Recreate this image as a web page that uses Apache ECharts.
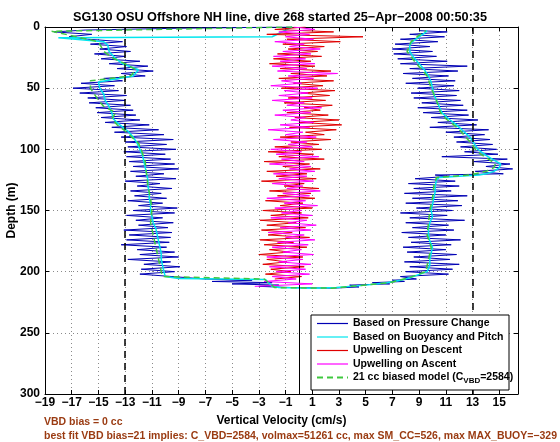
<!DOCTYPE html>
<html><head><meta charset="utf-8">
<script src="https://cdn.jsdelivr.net/npm/echarts@6/dist/echarts.min.js"></script>
<style>html,body{margin:0;padding:0;background:#fff}#c{width:560px;height:442px}</style>
</head><body><div id="c"></div>
<script>
// ---------- data (velocity in cm/s, depth in m) ----------
const pressureDepth = [0,1,2.5,4,6,8,
 10,12,14,16,18,20,22,24,26,28,30,32,34,36,38,40,42,44,46,48,50,52,54,56,58,60,62,64,66,68,
 70,72,74,76,78,80,82,84,86,88,90,92,94,96,98,100,102,104,106,108,110,112,114,116,118,120,122,124,126,128,
 130,132,134,136,138,140,142,144,146,148,150,152,154,156,158,160,162,164,166,168,170,172,174,176,178,180,
 182,184,186,188,190,192,194,196,198,200,202,204,
 206,207,208,209,210,211,212,213,
 213.5,212.5,211,210,209,208,207,206,
 204,202,200,198,196,194,192,190,188,186,184,182,180,178,176,174,172,170,168,166,164,162,160,158,156,154,
 152,150,148,146,144,142,140,138,136,134,132,130,128,126,124,122,121,120,118,116,114,112,110,108,106,104,
 102,100,98,96,94,92,90,88,86,84,82,80,78,76,74,72,70,68,66,64,62,60,58,56,54,52,50,48,46,44,42,40,38,36,
 34,32,30,28,26,24,22,20,18,16,14,12,10,8,6,4,3];
const pressureVel = [-0.5,-9,-16,-18.3,-15.5,-17.2,
 -15.8,-13.2,-15.6,-12.9,-14.9,-12.6,-15.3,-13.0,-14.8,-11.9,
 -14.2,-11.3,-13.6,-10.9,-13.3,-11.5,-14.6,-13.2,-16.3,-13.8,
 -16.9,-13.5,-16.4,-12.9,-15.8,-13.0,-15.7,-12.6,-15.2,-12.4,
 -15.1,-12.2,-14.8,-11.9,-14.5,-11.2,-14.0,-10.5,-13.8,-10.1,
 -13.3,-9.4,-13.0,-9.9,-12.8,-9.2,-13.1,-10.0,-12.9,-9.6,
 -12.7,-9.3,-12.4,-9.0,-12.6,-10.1,-12.2,-9.2,-13.0,-10.4,
 -12.1,-9.5,-12.6,-10.3,-12.3,-9.9,-12.8,-10.2,-12.0,-9.1,
 -12.4,-9.3,-12.9,-10.2,-12.2,-9.4,-12.0,-9.8,-13.1,-9.5,
 -12.7,-9.6,-12.9,-9.7,-13.3,-9.9,-12.1,-9.3,-11.9,-9.0,
 -12.8,-9.6,-11.6,-8.9,-11.8,-9.3,-11.9,-9.5,
 -7.0,-3.5,-6.5,-2.0,-5.0,-1.5,-3.0,-0.5,
 2.5,4.5,3.8,6.8,5.5,7.9,7.0,8.8,
 7.6,11.2,8.0,11.5,8.3,12.0,7.9,11.3,8.6,11.8,
 8.1,11.0,7.8,11.4,8.4,12.1,8.2,11.0,7.7,11.6,
 8.5,11.2,8.0,12.4,8.3,11.1,7.6,11.5,8.8,12.2,
 8.0,11.9,8.5,12.6,7.9,11.4,8.6,12.0,8.2,11.7,
 8.7,11.3,10.2,15.3,13.2,16.0,14.0,15.8,13.1,15.6,
 10.7,14.9,12.4,14.8,12.1,14.5,11.8,14.3,11.6,13.9,
 11.0,14.2,9.8,13.3,10.4,13.4,9.9,12.7,9.3,12.6,
 8.9,12.3,9.2,12.1,8.6,11.8,8.4,12.0,8.9,11.6,
 8.0,11.7,8.5,11.2,7.8,11.9,8.3,12.6,7.6,11.1,
 7.4,10.3,7.1,10.0,7.0,9.8,7.2,10.4,7.6,10.9,
 8.3,11.1,9.0];

const buoyDepth = [0,8,8.8,12,15,20,25,30,35,40,45,50,55,60,65,70,75,80,85,90,95,100,105,110,115,120,125,130,
 135,140,145,150,155,160,165,170,175,180,185,190,195,200,204,205.5,206.5,212,213,213.5,213,211,209,207,205,
 200,195,190,185,180,175,170,165,160,155,150,145,140,135,130,125,123,121,120,118,115,112,110,
 105,100,95,90,85,80,75,70,65,60,55,50,45,40,35,30,25,20,15,12,8,5,3];
const buoyVel = [-0.5,-2,-18.0,-14.6,-14.3,-14.2,-13.8,-13.2,-12.0,-12.4,-15.0,-14.9,-14.6,-14.5,-14.2,-14.0,
 -13.9,-13.4,-12.8,-12.4,-12.1,-11.9,-11.7,-11.6,-11.5,-11.4,-11.3,-11.3,-11.2,-11.2,-11.1,-11.1,-11.0,-10.9,
 -10.7,-10.6,-10.5,-10.4,-10.3,-10.3,-10.2,-10.1,-10.0,-9.0,-2.5,-2.0,-1.5,1.0,2.8,5.0,6.6,7.6,8.3,
 9.6,9.8,9.8,9.9,10.0,9.8,9.7,9.7,9.8,10.0,9.9,10.0,10.1,10.2,10.2,10.3,10.5,13.5,14.0,14.6,15.0,15.1,14.8,
 14.0,13.4,13.1,12.8,12.3,11.8,11.2,10.7,10.5,10.3,10.1,10.0,9.9,9.7,9.4,9.0,8.6,8.3,8.3,8.5,9.0,9.4,9.6];

const upDescDepth = [0,2,4,6,8,10,12,14,16,18,20,22,24,26,28,30,32,34,36,38,40,42,44,46,48,50,52,54,56,58,
 60,62,64,66,68,70,72,74,76,78,80,82,84,86,88,90,92,94,96,98,100,102,104,106,108,110,112,114,116,118,
 120,122,124,126,128,130,132,134,136,138,140,142,144,146,148,150,152,154,156,158,160,162,164,166,168,170,
 172,174,176,178,180,182,184,186,188,190,192,194,196,198,200,202,204,206];
const upDescVel = [0.5,-1.8,2.6,-2.4,4.8,-0.9,3.1,-1.2,1.9,-0.8,
 1.4,-1.6,1.7,-1.9,0.9,-2.2,1.2,-1.4,2.4,-0.6,
 2.1,-1.5,2.6,-0.4,1.8,-1.3,2.7,0.2,2.3,-0.8,
 2.0,-1.1,2.5,0.4,1.6,-0.9,2.2,-0.3,3.0,0.1,
 3.2,-0.7,2.8,0.5,1.9,-1.4,2.4,-0.6,1.5,-1.8,
 1.7,-2.3,1.1,-1.5,1.9,-2.6,0.8,-1.2,1.6,-2.4,
 0.6,-1.7,1.3,-2.8,0.4,-1.1,1.5,-2.2,0.9,-1.6,
 1.2,-2.5,0.3,-1.4,1.0,-2.7,0.2,-2.1,0.7,-2.9,
 -0.2,-2.4,0.5,-2.8,-0.5,-2.3,0.8,-2.9,-0.4,-2.6,
 0.6,-2.2,-0.7,-3.0,0.3,-2.4,-0.9,-2.7,0.4,-2.1,
 -0.6,-2.5,0.2,-1.8];

const upAscDepth = [212,210,208,206,204,202,200,198,196,194,192,190,188,186,184,182,180,178,176,174,
 172,170,168,166,164,162,160,158,156,154,152,150,148,146,144,142,140,138,136,134,132,130,128,126,124,122,
 120,118,116,114,112,110,108,106,104,102,100,98,96,94,92,90,88,86,84,82,80,78,76,74,72,70,68,66,64,62,
 60,58,56,54,52,50,48,46,44,42,40,38,36,34,32,30,28,26,24,22,20,18,16,14,12,10,8,6,4,2,0];
const upAscVel = [-3.3,1.0,-2.6,-0.2,-2.0,0.8,-1.7,0.5,-2.2,0.9,
 -1.5,0.3,-2.4,1.1,-1.2,0.2,-2.0,0.7,-1.6,1.2,
 -1.0,0.4,-2.3,0.9,-1.4,1.3,-0.8,0.6,-2.1,1.0,
 -1.3,0.2,-1.8,1.4,-1.1,0.5,-2.4,0.8,-1.2,1.6,
 -0.9,0.3,-2.0,1.1,-1.5,0.6,-1.9,1.2,-0.7,0.9,
 -2.2,0.4,-1.3,1.5,-1.7,0.2,-2.1,1.0,-0.8,0.6,
 -1.9,1.3,-1.0,0.3,-2.3,0.8,-1.4,1.1,-0.6,0.5,
 -1.8,0.9,-1.2,1.7,-0.9,0.4,-2.0,1.0,-1.5,0.7,
 -1.1,1.4,-2.1,0.2,-1.3,1.1,-0.8,2.9,-1.6,0.6,
 -2.0,1.2,-1.4,0.5,-1.9,0.9,-1.2,1.6,-0.7,0.4,
 -1.8,1.1,-1.0,0.8,-1.5,1.2,-0.4];

const modelDepth = [0,3.5,12,20,25,30,35,40,44,50,55,60,65,70,75,80,85,90,95,100,110,120,130,140,150,160,170,180,190,200,
 204,206,213,213.5,209,205,200,190,180,170,160,150,140,130,123,121,118,115,112,108,104,100,95,90,85,80,75,70,60,50,
 40,30,20,12,5,3];
const modelVel = [-0.5,-18.5,-15.0,-14.6,-14.0,-13.0,-12.2,-12.6,-15.6,-15.6,-15.3,-15.0,-14.6,-13.7,-14.0,-13.6,-13.0,
 -12.5,-12.0,-11.8,-11.5,-11.4,-11.3,-11.1,-11.0,-11.1,-10.9,-10.7,-10.5,-10.3,
 -10.2,-2.6,-1.8,2.5,6.8,8.2,9.5,9.7,9.9,9.6,9.7,9.8,10.0,10.1,10.3,12.8,14.0,14.6,14.7,14.2,13.6,13.2,12.9,12.5,
 12.1,11.6,11.0,10.6,10.3,9.9,9.6,8.8,8.1,8.4,9.2,9.5];

const zeroLine = [0];
const limitLines = [-13, 13];

const seriesNames = ['Based on Pressure Change','Based on Buoyancy and Pitch','Upwelling on Descent','Upwelling on Ascent','21 cc biased model'];
const titleText = 'SG130 OSU Offshore NH line, dive 268 started 25\u2212Apr\u22122008 00:50:35';
const xName = 'Vertical Velocity (cm/s)';
const yName = 'Depth (m)';
const note1 = 'VBD bias = 0 cc';
const note2 = 'best fit VBD bias=21 implies: C_VBD=2584, volmax=51261 cc, max SM_CC=526, max MAX_BUOY=\u2212329';

// ---------- chart ----------
const FF = '"Liberation Sans", Arial, Helvetica, sans-serif';
const pair = (d, v) => d.map((y, i) => [v[i], y]);
const colors = ['#0000b4', '#00e6ee', '#e00000', '#ff00ff', '#3ec83e'];

const grid = {left: 45, right: 42, top: 27, bottom: 48, outerBoundsMode: 'none', containLabel: false};
const chart = echarts.init(document.getElementById('c'), null, {renderer: 'canvas'});

const xFmt = v => (Math.abs(v - Math.round(v)) < 1e-6 && Math.abs(Math.round(v)) % 2 === 1) ? String(Math.round(v)).replace('-', '\u2212') : '';
const gridDots = {show: true, lineStyle: {color: '#8a8a8a', type: [1, 3], width: 1}};
const axLine = {show: true, onZero: false, lineStyle: {color: '#000', width: 1}};
const tick = {show: true, inside: true, length: 4, lineStyle: {color: '#000'}};

const lineSeries = (name, d, v, color, z, extra) => Object.assign({
  name, type: 'line', data: pair(d, v), showSymbol: false, symbol: 'none',
  lineStyle: {color, width: 1}, itemStyle: {color}, z, animation: false, silent: true
}, extra || {});

const legendTop = 315, legendLeft = 311, rowH = 13.5;
const legendGraphics = [{type: 'rect', z: 100, shape: {x: legendLeft, y: legendTop, width: 198, height: 75},
  style: {fill: '#fff', stroke: '#000', lineWidth: 1}}];
seriesNames.forEach((n, i) => {
  const y = legendTop + 8.5 + i * rowH;
  legendGraphics.push({type: 'line', z: 101, shape: {x1: legendLeft + 6, y1: y, x2: legendLeft + 37, y2: y},
    style: {stroke: colors[i], lineWidth: i === 4 ? 2 : 1.2, lineDash: i === 4 ? [6, 4] : null}});
  const txt = i === 4 ? '{a|' + n + ' (C}{s|VBD}{a|=2584)}' : n;
  legendGraphics.push({type: 'text', z: 101, x: legendLeft + 42, y: y,
    style: {text: txt, fontSize: 10.5, fontWeight: 'bold', fontFamily: FF, fill: '#000', verticalAlign: 'middle',
      rich: {a: {fontSize: 10.5, fontWeight: 'bold', fontFamily: FF, fill: '#000'},
             s: {fontSize: 8, fontWeight: 'bold', fontFamily: FF, fill: '#000', padding: [6, 0, 0, 0]}}}});
});

const option = {
  animation: false,
  backgroundColor: '#fff',
  title: {text: titleText, left: 'center', top: 6, textStyle: {fontSize: 12.7, fontWeight: 'bold', fontFamily: FF, color: '#000'}},
  grid,
  xAxis: [
    {type: 'value', min: -19, max: 16.4, interval: 2, position: 'bottom', axisLine: axLine, axisTick: tick,
     axisLabel: {formatter: xFmt, margin: 3, fontSize: 12, fontWeight: 'bold', fontFamily: FF, color: '#000', showMaxLabel: false},
     splitLine: gridDots, name: xName, nameLocation: 'middle', nameGap: 27, nameMoveOverlap: false,
     nameTextStyle: {fontSize: 12, fontWeight: 'bold', fontFamily: FF, color: '#000', verticalAlign: 'middle'}},
    {type: 'value', min: -19, max: 16.4, interval: 2, position: 'top', axisLine: axLine, axisTick: tick,
     axisLabel: {show: false}, splitLine: {show: false}}
  ],
  yAxis: [
    {type: 'value', inverse: true, min: 0, max: 300, interval: 50, position: 'left', axisLine: axLine, axisTick: tick,
     axisLabel: {margin: 5, fontSize: 12, fontWeight: 'bold', fontFamily: FF, color: '#000'},
     splitLine: gridDots, name: yName, nameLocation: 'middle', nameGap: 33, nameRotate: 90, nameMoveOverlap: false,
     nameTextStyle: {fontSize: 12, fontWeight: 'bold', fontFamily: FF, color: '#000', verticalAlign: 'middle'}},
    {type: 'value', inverse: true, min: 0, max: 300, interval: 50, position: 'right', axisLine: axLine, axisTick: tick,
     axisLabel: {show: false}, splitLine: {show: false}}
  ],
  series: [
    lineSeries(seriesNames[0], pressureDepth, pressureVel, colors[0], 2),
    lineSeries(seriesNames[1], buoyDepth, buoyVel, colors[1], 3, {lineStyle: {color: colors[1], width: 1.5}}),
    lineSeries(seriesNames[2], upDescDepth, upDescVel, colors[2], 4),
    lineSeries(seriesNames[3], upAscDepth, upAscVel, colors[3], 5),
    lineSeries(seriesNames[4], modelDepth, modelVel, colors[4], 6, {lineStyle: {color: colors[4], width: 1.5, type: [6, 4]}}),
    {type: 'line', data: [], z: 7, silent: true,
     markLine: {silent: true, symbol: 'none', label: {show: false}, animation: false,
       data: zeroLine.map(v => ({xAxis: v, lineStyle: {color: '#000', width: 1, type: 'solid'}}))
         .concat(limitLines.map(v => ({xAxis: v, lineStyle: {color: '#000', width: 1.5, type: [7, 5]}})))}}
  ],
  graphic: legendGraphics.concat([
    {type: 'text', x: 44, y: 422, style: {text: note1, fontSize: 10.5, fontWeight: 'bold', fontFamily: FF, fill: '#9a3b12', verticalAlign: 'middle'}},
    {type: 'text', x: 44, y: 436, style: {text: note2, fontSize: 10.5, fontWeight: 'bold', fontFamily: FF, fill: '#9a3b12', verticalAlign: 'middle'}}
  ])
};
chart.setOption(option);
</script></body></html>
